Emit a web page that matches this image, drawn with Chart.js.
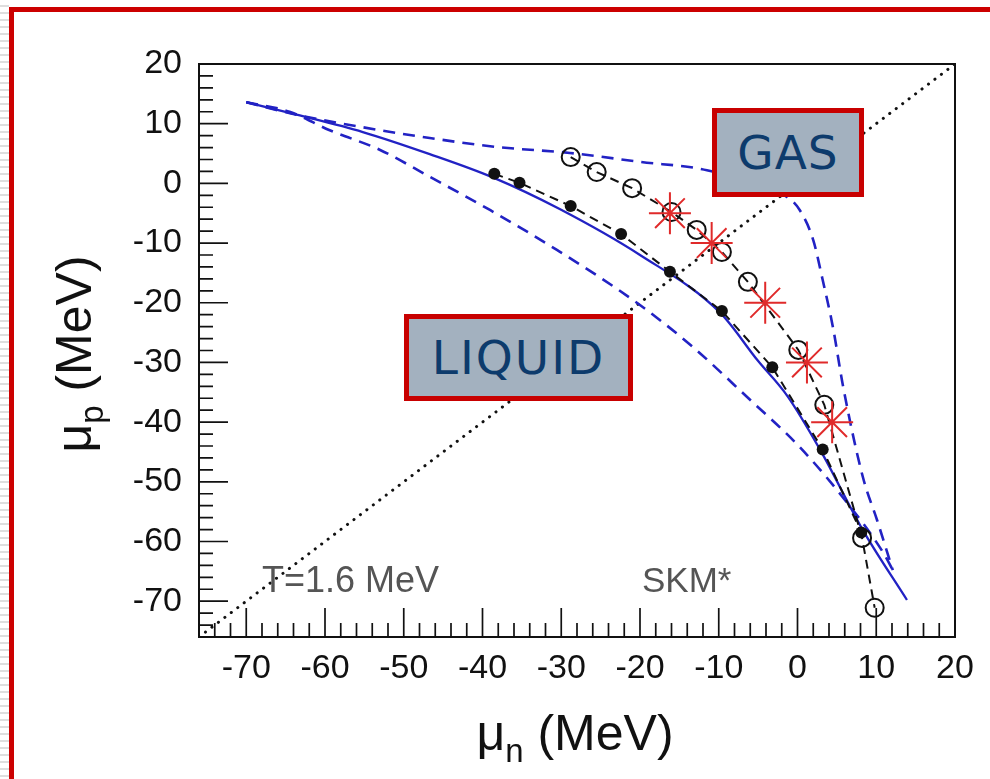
<!DOCTYPE html>
<html>
<head>
<meta charset="utf-8">
<script src="https://cdn.jsdelivr.net/npm/chart.js@4/dist/chart.umd.min.js"></script>
<style>
    html, body { margin: 0; padding: 0; background: #fff; }
    body { width: 990px; height: 779px; position: relative; overflow: hidden; }
    #stripe {
        position: absolute; left: 0; top: 0; width: 9px; height: 779px;
        background: repeating-linear-gradient(to bottom, #fff 0 5px, #dedede 5px 7px);
    }
    #frame {
        position: absolute; left: 9px; top: 7px; right: 0; bottom: 0;
        border-top: 5px solid #cc0000; border-left: 5px solid #cc0000;
    }
    #chart { position: absolute; left: 0; top: 0; }
    .phase {
        position: absolute; box-sizing: border-box;
        border: 5px solid #c80000; background: #a3b1bf;
        color: #0d3b6c; font-family: "DejaVu Sans", sans-serif; font-size: 47px;
        display: flex; align-items: center; justify-content: center;
        letter-spacing: 1px;
    }
    #gas    { left: 712px; top: 108px; width: 152px; height: 89px; }
    #liquid { left: 404px; top: 314px; width: 229px; height: 87px; letter-spacing: 2px; }
</style>
</head>
<body>
<div id="stripe"></div>
<div id="frame"></div>
<canvas id="chart" width="990" height="779"></canvas>
<div class="phase" id="gas">GAS</div>
<div class="phase" id="liquid">LIQUID</div>
<script>
(function () {
    const AXIS_MIN = -76;
    const AXIS_MAX = 20;

    // solid blue boundary
    const solidMuN = [-70, -63.6, -55.2, -46.7, -38.7, -30.2, -20.0, -9.8, -5.1, -1.3, 2.9, 8.3, 13.9];
    const solidMuP = [13.6, 11.5, 8.6, 4.9, 1.0, -4.3, -12.0, -21.7, -29.6, -35.6, -44.7, -58.1, -69.8];

    // upper dashed blue
    const upperMuN = [-70, -63.6, -55.2, -46.7, -38.2, -28.9, -20.0, -11.5, -1.3, 0.3, 2.0, 3.2, 4.5, 5.8, 8.3, 10.1, 12.1];
    const upperMuP = [13.6, 11.5, 9.4, 7.6, 6.1, 5.1, 3.6, 2.2, -2.3, -4.5, -9.5, -16.2, -24.1, -34.1, -49.2, -56.4, -64.8];

    // lower dashed blue
    const lowerMuN = [-70, -64.5, -59.4, -53.0, -46.7, -39.0, -30.5, -20.4, -13.3, -6.4, 0.3, 6.3, 10.9, 12.1];
    const lowerMuP = [13.6, 12.0, 8.9, 5.6, 1.1, -4.5, -11.2, -20.0, -27.4, -35.8, -44.2, -53.5, -61.9, -64.8];

    // filled dots (liquid side)
    const liquidMuN = [-38.5, -35.3, -28.8, -22.4, -16.2, -9.6, -3.2, 3.2, 8.1];
    const liquidMuP = [1.6, 0.1, -3.8, -8.5, -14.8, -21.4, -30.8, -44.6, -58.5];

    // open circles (gas side)
    const gasMuN = [-28.8, -25.5, -21.0, -16.0, -12.8, -9.6, -6.3, 0.1, 3.4, 8.2, 9.8];
    const gasMuP = [4.4, 1.9, -0.8, -4.8, -7.8, -11.5, -16.5, -27.9, -37.1, -59.4, -71.1];

    // red asterisks
    const starMuN = [-16.2, -10.9, -4.1, 1.2, 4.4];
    const starMuP = [-5, -10, -20, -30, -40];

    const xTickValues = [-70, -60, -50, -40, -30, -20, -10, 0, 10, 20];
    const yTickValues = [-70, -60, -50, -40, -30, -20, -10, 0, 10, 20];

    const BLUE  = '#2222c4';
    const RED   = '#e02a2a';
    const BLACK = '#111111';
    const FONT  = '"Liberation Sans", Arial, sans-serif';

    const pts = (xs, ys) => xs.map((v, i) => ({ x: v, y: ys[i] }));

    const frameAndTicks = {
        id: 'frameAndTicks',
        afterDatasetsDraw(chart) {
            const { ctx, chartArea: a, scales: { x, y } } = chart;
            ctx.save();
            ctx.strokeStyle = BLACK;
            ctx.lineWidth = 2;
            ctx.strokeRect(a.left, a.top, a.right - a.left, a.bottom - a.top);
            ctx.lineWidth = 1.7;
            ctx.beginPath();
            for (let v = AXIS_MIN; v <= AXIS_MAX; v += 2) {
                const len = v % 10 === 0 ? 29 : 14;
                const px = x.getPixelForValue(v);
                ctx.moveTo(px, a.bottom);
                ctx.lineTo(px, a.bottom - len);
                const py = y.getPixelForValue(v);
                ctx.moveTo(a.left, py);
                ctx.lineTo(a.left + len, py);
            }
            ctx.stroke();
            ctx.restore();
        },
        afterDraw(chart) {
            const ctx = chart.ctx;
            ctx.save();
            ctx.fillStyle = BLACK;
            ctx.textBaseline = 'alphabetic';

            // axis titles with subscripts
            const drawTitle = (sub, cx, cy, angle) => {
                ctx.save();
                ctx.translate(cx, cy);
                ctx.rotate(angle);
                ctx.font = '50px ' + FONT;
                const wMu = ctx.measureText('\u03bc').width;
                const wRest = ctx.measureText(' (MeV)').width;
                ctx.font = '33px ' + FONT;
                const wSub = ctx.measureText(sub).width;
                let left = -(wMu + wSub + wRest) / 2;
                ctx.font = '50px ' + FONT;
                ctx.textAlign = 'left';
                ctx.fillText('\u03bc', left, 0);
                ctx.font = '33px ' + FONT;
                ctx.fillText(sub, left + wMu, 12);
                ctx.font = '50px ' + FONT;
                ctx.fillText(' (MeV)', left + wMu + wSub, 0);
                ctx.restore();
            };
            drawTitle('n', 575, 750, 0);
            drawTitle('p', 91, 354, -Math.PI / 2);

            ctx.fillStyle = '#555';
            ctx.font = '36px ' + FONT;
            ctx.textAlign = 'left';
            ctx.fillText('T=1.6 MeV', 262, 592);
            ctx.font = '35px ' + FONT;
            ctx.fillText('SKM*', 642, 592);
            ctx.restore();
        }
    };

    const lineSet = (data, color, dash, width) => ({
        data, showLine: true, borderColor: color, borderWidth: width,
        borderDash: dash, pointRadius: 0, cubicInterpolationMode: 'monotone', fill: false,
    });

    new Chart(document.getElementById('chart'), {
        type: 'scatter',
        data: {
            datasets: [
                {
                    data: pts(starMuN, starMuP), pointStyle: 'star', pointRadius: 21,
                    pointBorderColor: RED, pointBorderWidth: 2, pointBackgroundColor: RED,
                },
                {
                    data: pts(gasMuN, gasMuP), showLine: true, borderColor: BLACK, borderWidth: 2,
                    borderDash: [9, 6], tension: 0, pointRadius: 9, pointBorderWidth: 2,
                    pointBorderColor: BLACK, pointBackgroundColor: 'rgba(0,0,0,0)',
                },
                {
                    data: pts(liquidMuN, liquidMuP), showLine: true, borderColor: BLACK, borderWidth: 2,
                    borderDash: [9, 6], tension: 0, pointRadius: 6, pointBorderWidth: 0,
                    pointBackgroundColor: BLACK,
                },
                lineSet(pts(solidMuN, solidMuP), BLUE, [], 2.3),
                lineSet(pts(upperMuN, upperMuP), BLUE, [12, 8], 2.6),
                lineSet(pts(lowerMuN, lowerMuP), BLUE, [12, 8], 2.6),
                {
                    data: pts([AXIS_MIN, AXIS_MAX], [AXIS_MIN, AXIS_MAX]), showLine: true,
                    borderColor: BLACK, borderWidth: 3, borderDash: [0.1, 8], borderCapStyle: 'round',
                    pointRadius: 0,
                },
            ],
        },
        options: {
            responsive: false,
            animation: false,
            layout: { padding: { top: 64, right: 35, bottom: 0, left: 0 } },
            plugins: { legend: { display: false }, tooltip: { enabled: false } },
            scales: {
                x: {
                    type: 'linear', min: AXIS_MIN, max: AXIS_MAX,
                    grid: { display: false, drawTicks: false },
                    border: { display: false },
                    afterFit: s => { s.height = 142; },
                    afterBuildTicks: s => { s.ticks = xTickValues.map(v => ({ value: v })); },
                    ticks: {
                        autoSkip: false, maxRotation: 0, padding: 11, color: BLACK,
                        font: { family: FONT, size: 34 },
                    },
                },
                y: {
                    type: 'linear', min: AXIS_MIN, max: AXIS_MAX,
                    grid: { display: false, drawTicks: false },
                    border: { display: false },
                    afterFit: s => { s.width = 199; },
                    afterBuildTicks: s => { s.ticks = yTickValues.map(v => ({ value: v })); },
                    ticks: {
                        autoSkip: false, padding: 17, color: BLACK,
                        font: { family: FONT, size: 34 },
                    },
                },
            },
        },
        plugins: [frameAndTicks],
    });
})();
</script>
</body>
</html>
